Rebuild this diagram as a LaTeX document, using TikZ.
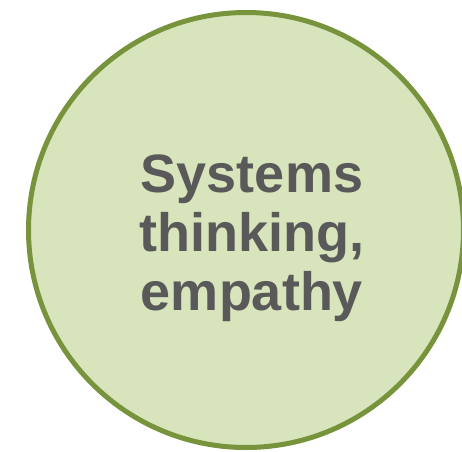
\documentclass[tikz,border=0pt]{standalone}
\usepackage{fontspec}
\setmainfont{Liberation Sans}
\definecolor{leaf}{HTML}{D8E4BC}
\definecolor{olive}{HTML}{77933C}
\definecolor{ink}{HTML}{595959}

\begin{document}
\begin{tikzpicture}[x=1pt, y=1pt]
		\useasboundingbox (0,0) rectangle (462,451);
		\clip (0,0) rectangle (462,451);
		\node (skill)[draw=olive, fill=leaf, circle, line width=5pt, minimum size=435pt, inner sep=0pt] at(246,221)  {};
		\node (label)[text=ink, align=center, font=\fontsize{54}{59}\selectfont\bfseries] at(252,213) {Systems\\thinking,\\empathy};
	\end{tikzpicture}
\end{document}
